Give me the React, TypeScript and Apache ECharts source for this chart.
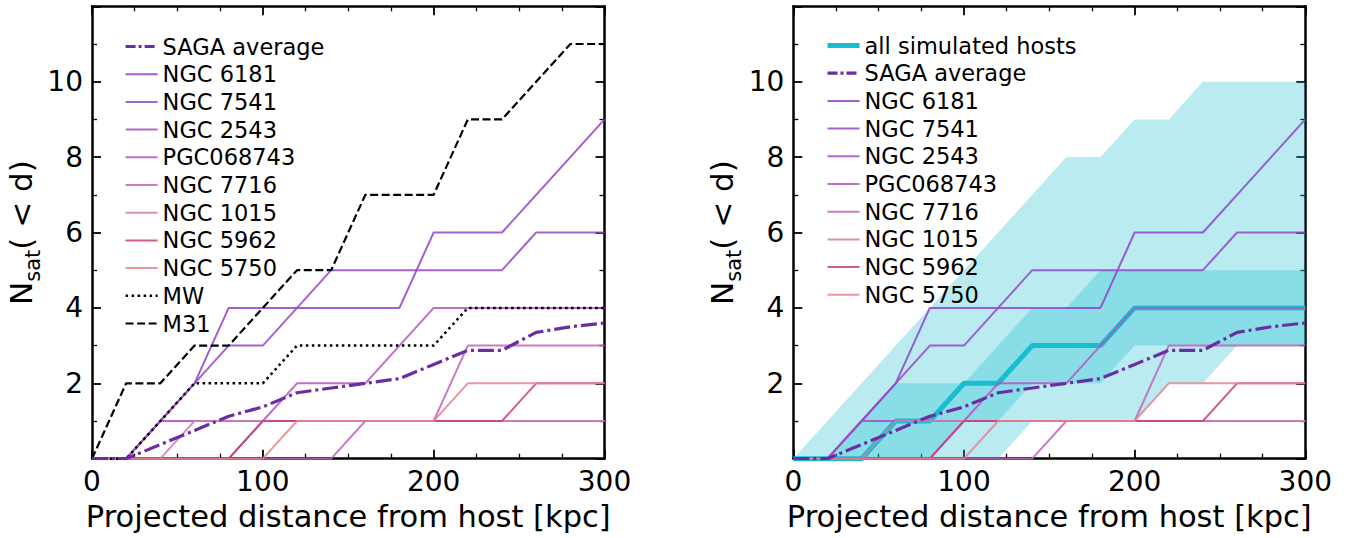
import React, { useEffect, useRef } from "react";
import * as echarts from "echarts";

// ---------- data ----------
const distance = [0, 20, 40, 60, 80, 100, 120, 140, 160, 180, 200, 220, 240, 260, 280, 300];

const sagaAverage = [0, 0, 0.375, 0.75, 1.125, 1.375, 1.75, 1.875, 2.0, 2.125, 2.5, 2.875, 2.875, 3.35, 3.5, 3.6];
const ngc6181 = [0, 0, 1, 2, 4, 4, 4, 4, 4, 4, 6, 6, 6, 7, 8, 9];
const ngc7541 = [0, 0, 1, 2, 3, 3, 4, 5, 5, 5, 5, 5, 5, 6, 6, 6];
const ngc2543 = [0, 0, 1, 1, 1, 1, 1, 1, 1, 1, 1, 1, 1, 1, 1, 1];
const pgc068743 = [0, 0, 0, 0, 0, 1, 2, 2, 2, 3, 4, 4, 4, 4, 4, 4];
const ngc7716 = [0, 0, 0, 0, 0, 0, 0, 0, 1, 1, 1, 3, 3, 3, 3, 3];
const ngc1015 = [0, 0, 0, 1, 1, 1, 1, 1, 1, 1, 1, 1, 1, 1, 1, 1];
const ngc5962 = [0, 0, 0, 0, 0, 1, 1, 1, 1, 1, 1, 1, 1, 2, 2, 2];
const ngc5750 = [0, 0, 0, 0, 0, 0, 1, 1, 1, 1, 1, 2, 2, 2, 2, 2];
const milkyWay = [0, 0, 1, 2, 2, 2, 3, 3, 3, 3, 3, 4, 4, 4, 4, 4];
const m31 = [0, 2, 2, 3, 3, 4, 5, 5, 7, 7, 7, 9, 9, 10, 11, 11];

const simMedian = [0, 0, 0, 1, 1, 2, 2, 3, 3, 3, 4, 4, 4, 4, 4, 4];
const simInnerLow = [0, 0, 0, 0, 0, 1, 1, 2, 2, 2, 3, 3, 3, 3, 3, 3];
const simInnerHigh = [0, 0, 1, 2, 2, 2, 3, 4, 4, 5, 5, 5, 5, 5, 5, 5];
const simOuterLow = [0, 0, 0, 0, 0, 0, 0, 1, 1, 1, 1, 2, 2, 3, 3, 3];
const simOuterHigh = [0, 1, 2, 3, 4, 5, 6, 7, 8, 8, 9, 9, 10, 10, 10, 10];

const hostNames = ["NGC 6181", "NGC 7541", "NGC 2543", "PGC068743", "NGC 7716", "NGC 1015", "NGC 5962", "NGC 5750"];
const hostValues = [ngc6181, ngc7541, ngc2543, pgc068743, ngc7716, ngc1015, ngc5962, ngc5750];

const xTicks = { min: 0, max: 300, interval: 100 };
const yTicks = { min: 0, max: 12, interval: 2 };

// ---------- styles ----------
const FONT = "DejaVu Sans";
const hostColors = ["#9043cc", "#9846ca", "#a64cc6", "#b456c2", "#c064bb", "#d07eae", "#c8407f", "#e5848f"];
const sagaColor = "#6a2da3";
const cyan = "#17becf";

function pairs(ys: number[]) {
  return distance.map((x, i) => [x, ys[i]]);
}

function makeAxes(gi: number) {
  const line = { show: true, onZero: false, lineStyle: { color: "#000", width: 2.5 } };
  const tick = { show: true, inside: true, length: 9, lineStyle: { color: "#000", width: 1.8 } };
  const xMinor = { show: true, splitNumber: 4, length: 5, lineStyle: { color: "#000", width: 1.3 } };
  const yMinor = { show: true, splitNumber: 2, length: 5, lineStyle: { color: "#000", width: 1.3 } };
  const xs = [
    {
      type: "value",
      gridIndex: gi,
      position: "bottom",
      ...xTicks,
      axisLine: line,
      axisTick: tick,
      minorTick: xMinor,
      splitLine: { show: false },
      axisLabel: { fontSize: 28, color: "#000", fontFamily: FONT, margin: 9 },
      name: "Projected distance from host [kpc]",
      nameLocation: "middle",
      nameGap: 41,
      nameTextStyle: { fontSize: 30.5, color: "#000", fontFamily: FONT },
    },
    {
      type: "value",
      gridIndex: gi,
      position: "top",
      ...xTicks,
      axisLine: line,
      axisTick: tick,
      minorTick: xMinor,
      splitLine: { show: false },
      axisLabel: { show: false },
    },
  ];
  const ys = [
    {
      type: "value",
      gridIndex: gi,
      position: "left",
      ...yTicks,
      axisLine: line,
      axisTick: tick,
      minorTick: yMinor,
      splitLine: { show: false },
      axisLabel: {
        fontSize: 28,
        color: "#000",
        fontFamily: FONT,
        margin: 9,
        formatter: (v: number) => (v === 0 || v === 12 ? "" : String(v)),
      },
      name: "{a|N}{b|sat}{a|( < d)}",
      nameLocation: "middle",
      nameRotate: 90,
      nameGap: 49,
      nameTextStyle: {
        rich: {
          a: { fontSize: 31, fontFamily: FONT, color: "#000", lineHeight: 44, verticalAlign: "middle" },
          b: { fontSize: 21, fontFamily: FONT, color: "#000", lineHeight: 44, verticalAlign: "bottom" },
        },
      },
    },
    {
      type: "value",
      gridIndex: gi,
      position: "right",
      ...yTicks,
      axisLine: line,
      axisTick: tick,
      minorTick: yMinor,
      splitLine: { show: false },
      axisLabel: { show: false },
    },
  ];
  return { xs, ys };
}

function bandSeries(name: string, lo: number[], hi: number[], xi: number, yi: number) {
  return {
    type: "custom",
    name,
    xAxisIndex: xi,
    yAxisIndex: yi,
    silent: true,
    z: 1,
    data: distance.map((x, i) => [x, lo[i], hi[i]]),
    renderItem: (params: any, api: any) => {
      if (params.dataIndex !== 0) return null;
      const pts: number[][] = [];
      for (let i = 0; i < distance.length; i++) pts.push(api.coord([distance[i], hi[i]]));
      for (let i = distance.length - 1; i >= 0; i--) pts.push(api.coord([distance[i], lo[i]]));
      return {
        type: "polygon",
        shape: { points: pts },
        style: { fill: "rgba(23,190,207,0.3)", stroke: "none" },
      };
    },
  };
}

function hostSeries(xi: number, yi: number) {
  return hostNames.map((name, k) => ({
    type: "line",
    name,
    xAxisIndex: xi,
    yAxisIndex: yi,
    data: pairs(hostValues[k]),
    symbol: "none",
    z: 3,
    lineStyle: { color: hostColors[k], width: 2, opacity: 0.85 },
    itemStyle: { color: hostColors[k] },
  }));
}

function sagaSeries(xi: number, yi: number) {
  return {
    type: "line",
    name: "SAGA average",
    xAxisIndex: xi,
    yAxisIndex: yi,
    data: pairs(sagaAverage),
    symbol: "none",
    z: 5,
    lineStyle: { color: sagaColor, width: 3.2, type: [16, 4, 3, 4] },
    itemStyle: { color: sagaColor },
  };
}

export default function App() {
  const ref = useRef<HTMLDivElement>(null);

  useEffect(() => {
    if (!ref.current) return;
    const chart = echarts.init(ref.current, undefined, { renderer: "svg" });
    const a0 = makeAxes(0);
    const a1 = makeAxes(1);

    const legendCommon = {
      orient: "vertical",
      itemWidth: 32,
      itemHeight: 14,
      itemGap: 4.7,
      padding: 0,
      selectedMode: false,
      itemStyle: { opacity: 0, borderWidth: 0 },
      textStyle: { fontSize: 22.5, lineHeight: 22, color: "#000", fontFamily: FONT },
    };

    const sagaLegend = { name: "SAGA average", lineStyle: { width: 3.2, type: [10, 3, 3, 3] } };
    const hostLegend = hostNames.map((n) => ({ name: n, lineStyle: { width: 2 } }));

    const option: any = {
      animation: false,
      backgroundColor: "#fff",
      grid: [
        { left: 92, top: 6.3, width: 512.5, height: 452.4 },
        { left: 793.3, top: 6.3, width: 512, height: 452.4 },
      ],
      xAxis: [...a0.xs, ...a1.xs],
      yAxis: [...a0.ys, ...a1.ys],
      legend: [
        {
          ...legendCommon,
          left: 124,
          top: 35,
          data: [sagaLegend, ...hostLegend, { name: "MW", lineStyle: { width: 2.5 } }, { name: "M31", lineStyle: { width: 2.2 } }],
        },
        {
          ...legendCommon,
          left: 825,
          top: 34,
          data: [{ name: "all simulated hosts", lineStyle: { width: 5 } }, sagaLegend, ...hostLegend],
        },
      ],
      series: [
        // left panel
        ...hostSeries(0, 0),
        sagaSeries(0, 0),
        {
          type: "line",
          name: "MW",
          xAxisIndex: 0,
          yAxisIndex: 0,
          data: pairs(milkyWay),
          symbol: "none",
          z: 4,
          lineStyle: { color: "#000", width: 2.5, type: [2.5, 3.5] },
          itemStyle: { color: "#000" },
        },
        {
          type: "line",
          name: "M31",
          xAxisIndex: 0,
          yAxisIndex: 0,
          data: pairs(m31),
          symbol: "none",
          z: 4,
          lineStyle: { color: "#000", width: 2.2, type: [8, 3.5] },
          itemStyle: { color: "#000" },
        },
        // right panel
        bandSeries("outer band", simOuterLow, simOuterHigh, 2, 2),
        bandSeries("inner band", simInnerLow, simInnerHigh, 2, 2),
        {
          type: "line",
          name: "all simulated hosts",
          xAxisIndex: 2,
          yAxisIndex: 2,
          data: pairs(simMedian),
          symbol: "none",
          z: 2,
          lineStyle: { color: cyan, width: 5 },
          itemStyle: { color: cyan },
        },
        ...hostSeries(2, 2),
        sagaSeries(2, 2),
      ],
    };
    chart.setOption(option);
    return () => chart.dispose();
  }, []);

  return (
    <div
      ref={ref}
      style={{ position: "fixed", left: 0, top: 0, width: 1360, height: 538, background: "#fff" }}
    />
  );
}
